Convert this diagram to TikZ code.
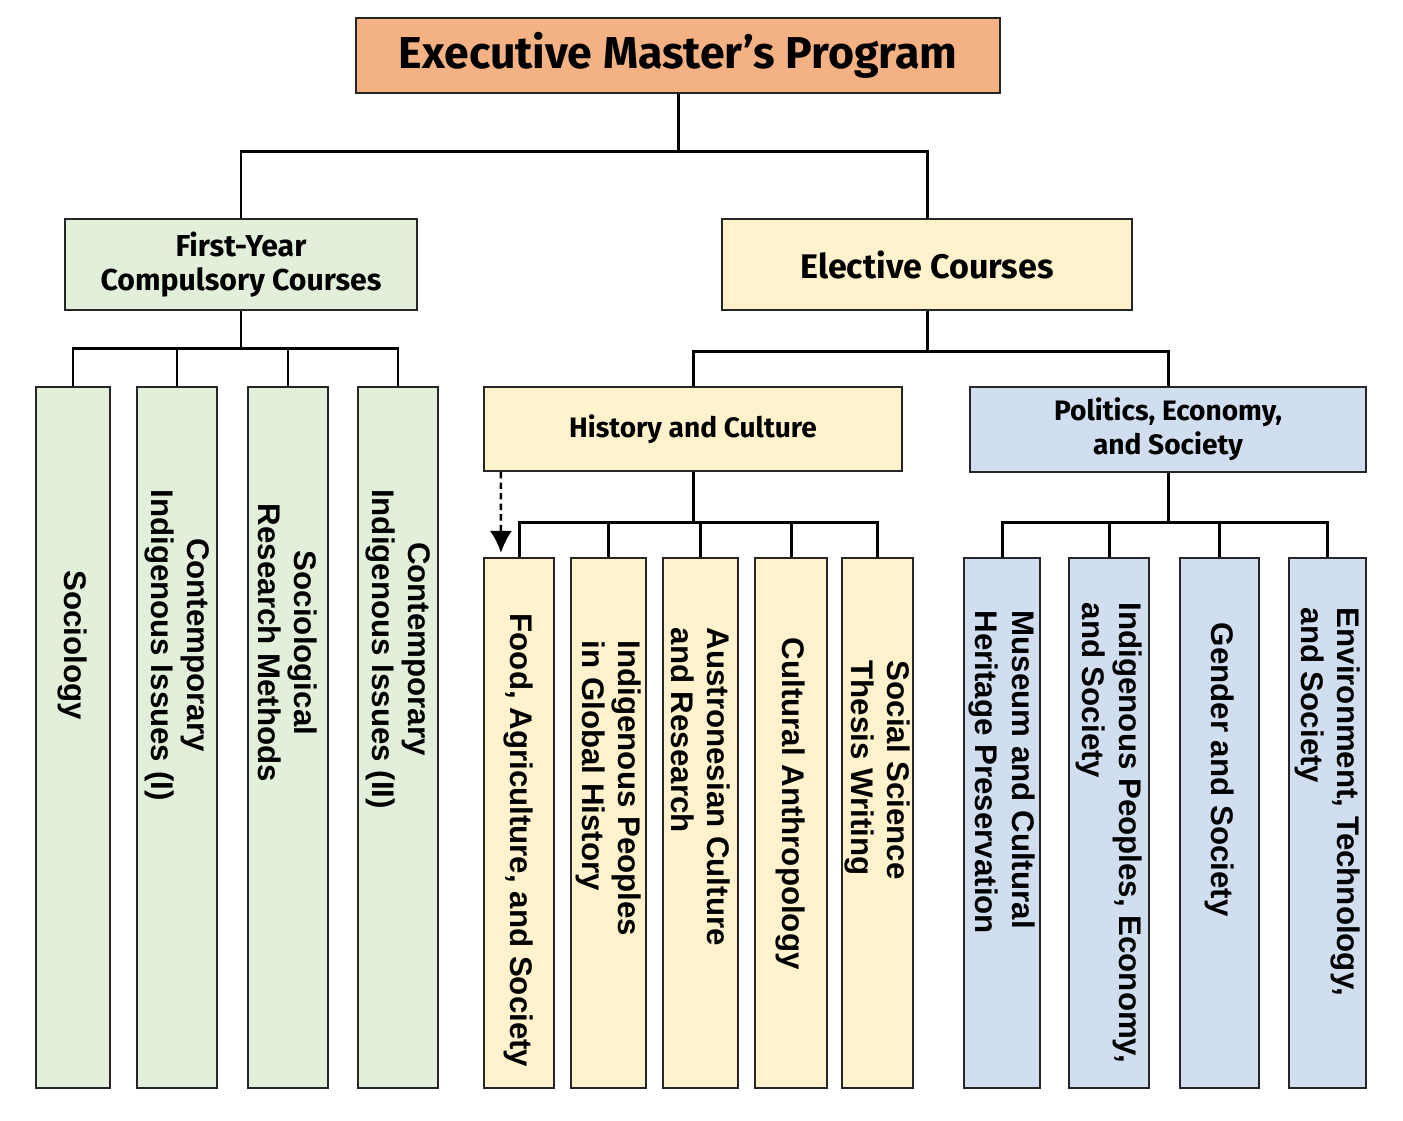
\documentclass[tikz,border=0pt]{standalone}
\usepackage{fontspec}
\setmainfont{Liberation Sans}
\newfontfamily\headfont{Fira Sans}
\usetikzlibrary{arrows.meta}
\definecolor{titleorange}{HTML}{F4B183}
\definecolor{fygreen}{HTML}{E2EFDA}
\definecolor{elyellow}{HTML}{FFF2CC}
\definecolor{polblue}{HTML}{D0DEF0}
\begin{document}
\begin{tikzpicture}
    [   hbox/.style={draw=black!85,line width=0.6pt,fill=#1,inner sep=0,align=center},
        leaf/.style={draw=black!85,line width=0.6pt,fill=#1,inner sep=0},
        ltext/.style={rotate=-90,inner sep=0,font=\bfseries\fontsize{8.9}{10.3}\selectfont},
        link/.style={line width=0.85pt},
    ]
        \fill[white] (0,0) rectangle (14.03,-11.21);
        \useasboundingbox (0,0) rectangle (14.03,-11.21);
        % top levels
        \node[hbox=titleorange,minimum width=6.44cm,minimum height=0.75cm,
              font=\headfont\bfseries\fontsize{12.7}{15}\selectfont] (title) at (6.78,-0.555) {Executive Master’s Program};
        \node[hbox=fygreen,minimum width=3.52cm,minimum height=0.91cm,
              font=\headfont\bfseries\fontsize{8.6}{9.6}\selectfont] (first) at (2.41,-2.645) {First-Year\\Compulsory Courses};
        \node[hbox=elyellow,minimum width=4.10cm,minimum height=0.91cm,
              font=\headfont\bfseries\fontsize{9.7}{12}\selectfont] (elec) at (9.27,-2.645) {Elective Courses};
        \node[hbox=elyellow,minimum width=4.18cm,minimum height=0.84cm,
              font=\headfont\bfseries\fontsize{8}{9.6}\selectfont] (hist) at (6.93,-4.29) {History and Culture};
        \node[hbox=polblue,minimum width=3.96cm,minimum height=0.85cm,
              font=\headfont\bfseries\fontsize{8}{9.6}\selectfont] (pol) at (11.68,-4.295) {Politics, Economy,\\and Society};
        % course columns
        \foreach \n/\x/\w in {1/0.73/0.74,2/1.77/0.80,3/2.88/0.80,4/3.98/0.80}
        {   \node[leaf=fygreen,minimum width=\w cm,minimum height=7.01cm] (f-\n) at (\x,-7.375) {};
        }
        \foreach \n/\x/\w in {1/5.19/0.70,2/6.085/0.75,3/7.005/0.75,4/7.91/0.72,5/8.775/0.71}
        {   \node[leaf=elyellow,minimum width=\w cm,minimum height=5.30cm] (h-\n) at (\x,-8.23) {};
        }
        \foreach \n/\x/\w in {1/10.02/0.76,2/11.09/0.80,3/12.195/0.79,4/13.275/0.77}
        {   \node[leaf=polblue,minimum width=\w cm,minimum height=5.30cm] (p-\n) at (\x,-8.23) {};
        }
        % column texts
        \node[ltext,align=center] (ft-1) at (0.73,-6.45) {Sociology};
        \node[ltext,align=center] (ft-2) at (1.77,-6.45) {Contemporary\\Indigenous Issues (I)};
        \node[ltext,align=center] (ft-3) at (2.88,-6.43) {Sociological\\Research Methods};
        \node[ltext,align=center] (ft-4) at (3.98,-6.49) {Contemporary\\Indigenous Issues (II)};
        \node[ltext,align=left,anchor=west] (ht-1) at (5.19,-6.13) {Food, Agriculture, and Society};
        \node[ltext,align=left,anchor=west] (ht-2) at (6.085,-6.40) {Indigenous Peoples\\in Global History};
        \node[ltext,align=left,anchor=west] (ht-3) at (7.005,-6.27) {Austronesian Culture\\and Research};
        \node[ltext,align=left,anchor=west] (ht-4) at (7.91,-6.37) {Cultural Anthropology};
        \node[ltext,align=left,anchor=west] (ht-5) at (8.775,-6.60) {Social Science\\Thesis Writing};
        \node[ltext,align=left,anchor=west] (pt-1) at (10.02,-6.10) {Museum and Cultural\\Heritage Preservation};
        \node[ltext,align=left,anchor=west] (pt-2) at (11.09,-6.02) {Indigenous Peoples, Economy,\\and Society};
        \node[ltext,align=left,anchor=west] (pt-3) at (12.195,-6.22) {Gender and Society};
        \node[ltext,align=left,anchor=west] (pt-4) at (13.275,-6.07) {Environment, Technology,\\and Society};
        % connectors
        \draw[link] (title.south) -- ++(0,-0.57) coordinate (tb) -| (first.north);
        \draw[link] (tb) -| (elec.north);
        \draw[link] (first.south) -- ++(0,-0.37) coordinate (fb);
        \foreach \n in {1,...,4}
            \draw[link] (fb) -| (f-\n.north);
        \draw[link] (elec.south) -- ++(0,-0.40) coordinate (eb) -| (hist.north);
        \draw[link] (eb) -| (pol.north);
        \draw[link] (hist.south) -- ++(0,-0.50) coordinate (hb);
        \foreach \n in {1,...,5}
            \draw[link] (hb) -| (h-\n.north);
        \draw[link] (pol.south) -- ++(0,-0.49) coordinate (pb);
        \foreach \n in {1,...,4}
            \draw[link] (pb) -| (p-\n.north);
        \draw[line width=0.7pt,dash pattern=on 1.8pt off 1.2pt,-{Latex[length=2.2mm,width=2.2mm]}]
            ([xshift=0.18cm]hist.south west) -- ([xshift=0.18cm,yshift=0.04cm]h-1.north west);
    \end{tikzpicture}
\end{document}
